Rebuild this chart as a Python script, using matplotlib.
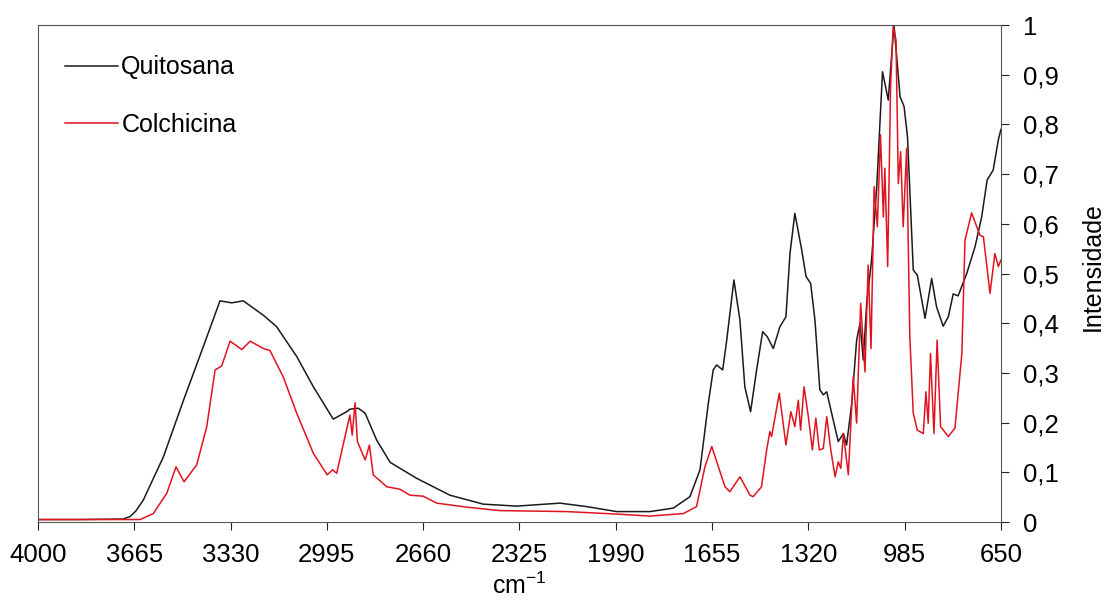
import matplotlib.pyplot as plt
from matplotlib.ticker import FuncFormatter

plt.rcParams['font.family'] = ['Liberation Sans', 'DejaVu Sans']
plt.rcParams['mathtext.fontset'] = 'custom'
plt.rcParams['mathtext.rm'] = 'Liberation Sans'
plt.rcParams['mathtext.it'] = 'Liberation Sans'

# Quitosana spectrum (wavenumber cm-1, intensity)
wn_quit = [4000, 3854, 3704, 3680, 3660, 3634, 3564, 3494, 3425, 3367, 3326, 3286, 3216,
           3170, 3100, 3042, 2973, 2926, 2915, 2886, 2862, 2822, 2775, 2683, 2567,
           2451, 2335, 2184, 2091, 1987, 1871, 1790, 1732, 1697, 1668, 1651, 1639,
           1618, 1604, 1579, 1558, 1541, 1521, 1500, 1479, 1463, 1442, 1419, 1398,
           1384, 1367, 1343, 1328, 1312, 1297, 1280, 1268, 1256, 1239, 1216, 1198,
           1187, 1169, 1152, 1140, 1129, 1117, 1100, 1082, 1062, 1042, 1022, 1001,
           987, 975, 955, 941, 914, 891, 874, 851, 833, 816, 799, 769, 740, 717,
           698, 677, 659, 650]
int_quit = [0.005, 0.005, 0.006, 0.011, 0.022, 0.044, 0.131, 0.245, 0.353, 0.445, 0.441, 0.445, 0.416,
            0.393, 0.333, 0.272, 0.207, 0.222, 0.227, 0.229, 0.219, 0.165, 0.12, 0.088, 0.054,
            0.036, 0.032, 0.038, 0.031, 0.021, 0.021, 0.028, 0.051, 0.105, 0.239, 0.306, 0.316,
            0.306, 0.366, 0.487, 0.406, 0.272, 0.222, 0.306, 0.383, 0.373, 0.349, 0.393, 0.413,
            0.54, 0.621, 0.547, 0.494, 0.48, 0.406, 0.266, 0.256, 0.262, 0.219, 0.162, 0.178,
            0.155, 0.239, 0.366, 0.40, 0.326, 0.44, 0.527, 0.675, 0.906, 0.849, 1.0, 0.856,
            0.836, 0.775, 0.507, 0.497, 0.41, 0.49, 0.433, 0.394, 0.413, 0.459, 0.455, 0.50, 0.554, 0.614,
            0.688, 0.708, 0.769, 0.79]

# Colchicina spectrum
wn_colc = [4000, 3645, 3599, 3552, 3520, 3492, 3448, 3413, 3384, 3361, 3332, 3291,
           3262, 3216, 3193, 3147, 3100, 3042, 2994, 2975, 2961, 2932, 2915, 2907,
           2897, 2889, 2862, 2847, 2834, 2787, 2741, 2706, 2660, 2613, 2509, 2393,
           2161, 1987, 1871, 1755, 1709, 1680, 1656, 1633, 1610, 1593, 1558, 1523,
           1512, 1483, 1465, 1454, 1448, 1421, 1398, 1381, 1367, 1355, 1347, 1335,
           1320, 1306, 1294, 1282, 1268, 1256, 1242, 1227, 1216, 1207, 1198, 1181,
           1164, 1152, 1138, 1123, 1112, 1102, 1091, 1080, 1069, 1059, 1054, 1044,
           1034, 1025, 1015, 1007, 999, 990, 978, 967, 955, 941, 920, 911, 903, 895,
           883, 872, 860, 833, 810, 786, 775, 752, 723, 711, 688, 671, 659, 650]
int_colc = [0.005, 0.005, 0.017, 0.058, 0.111, 0.081, 0.115, 0.192, 0.306, 0.314, 0.364, 0.347,
            0.364, 0.349, 0.345, 0.292, 0.219, 0.138, 0.095, 0.105, 0.098, 0.172, 0.215, 0.175,
            0.24, 0.162, 0.125, 0.155, 0.095, 0.071, 0.066, 0.054, 0.052, 0.038, 0.030, 0.023,
            0.021, 0.016, 0.012, 0.017, 0.031, 0.111, 0.152, 0.111, 0.071, 0.061, 0.091, 0.054,
            0.051, 0.071, 0.145, 0.182, 0.172, 0.259, 0.155, 0.222, 0.192, 0.245, 0.185, 0.272,
            0.212, 0.145, 0.209, 0.145, 0.148, 0.212, 0.145, 0.091, 0.121, 0.108, 0.178, 0.095,
            0.292, 0.199, 0.44, 0.302, 0.517, 0.349, 0.675, 0.594, 0.779, 0.614, 0.712, 0.514,
            0.876, 0.997, 0.97, 0.681, 0.745, 0.594, 0.752, 0.373, 0.219, 0.185, 0.178, 0.262, 0.199, 0.339,
            0.178, 0.366, 0.192, 0.172, 0.189, 0.339, 0.567, 0.622, 0.577, 0.574, 0.46, 0.54, 0.514, 0.527]

x_ticks = [4000, 3665, 3330, 2995, 2660, 2325, 1990, 1655, 1320, 985, 650]
y_ticks = [0, 0.1, 0.2, 0.3, 0.4, 0.5, 0.6, 0.7, 0.8, 0.9, 1]

fig = plt.figure(figsize=(11.06, 6.01), dpi=100)
ax = fig.add_axes([0.0344, 0.1314, 0.8706, 0.827])

ax.plot(wn_quit, int_quit, color='#1a1a1a', lw=1.1, label='Quitosana')
ax.plot(wn_colc, int_colc, color='#e0141e', lw=1.1, label='Colchicina')

ax.set_xlim(4000, 650)
ax.set_ylim(0, 1)
ax.set_xticks(x_ticks)
ax.set_yticks(y_ticks)
ax.yaxis.tick_right()
ax.yaxis.set_label_position('right')
ax.yaxis.set_major_formatter(FuncFormatter(lambda v, p: ('%g' % round(v, 1)).replace('.', ',')))
ax.tick_params(axis='both', labelsize=18.5, direction='out', length=6, color='#222222')
ax.tick_params(axis='x', pad=9)
ax.tick_params(axis='y', pad=10)
for s in ax.spines.values():
    s.set_color('#555555')

ax.set_xlabel('cm$^{-1}$', fontsize=18, labelpad=4)
ax.set_ylabel('Intensidade', fontsize=18, labelpad=16, y=0.514)

ax.legend(loc='upper left', frameon=False, fontsize=18, labelspacing=1.35,
          handlelength=2.1, handletextpad=0.15, borderpad=0, borderaxespad=0,
          bbox_to_anchor=(0.028, 0.939))

fig.savefig('out.png', dpi=100)
